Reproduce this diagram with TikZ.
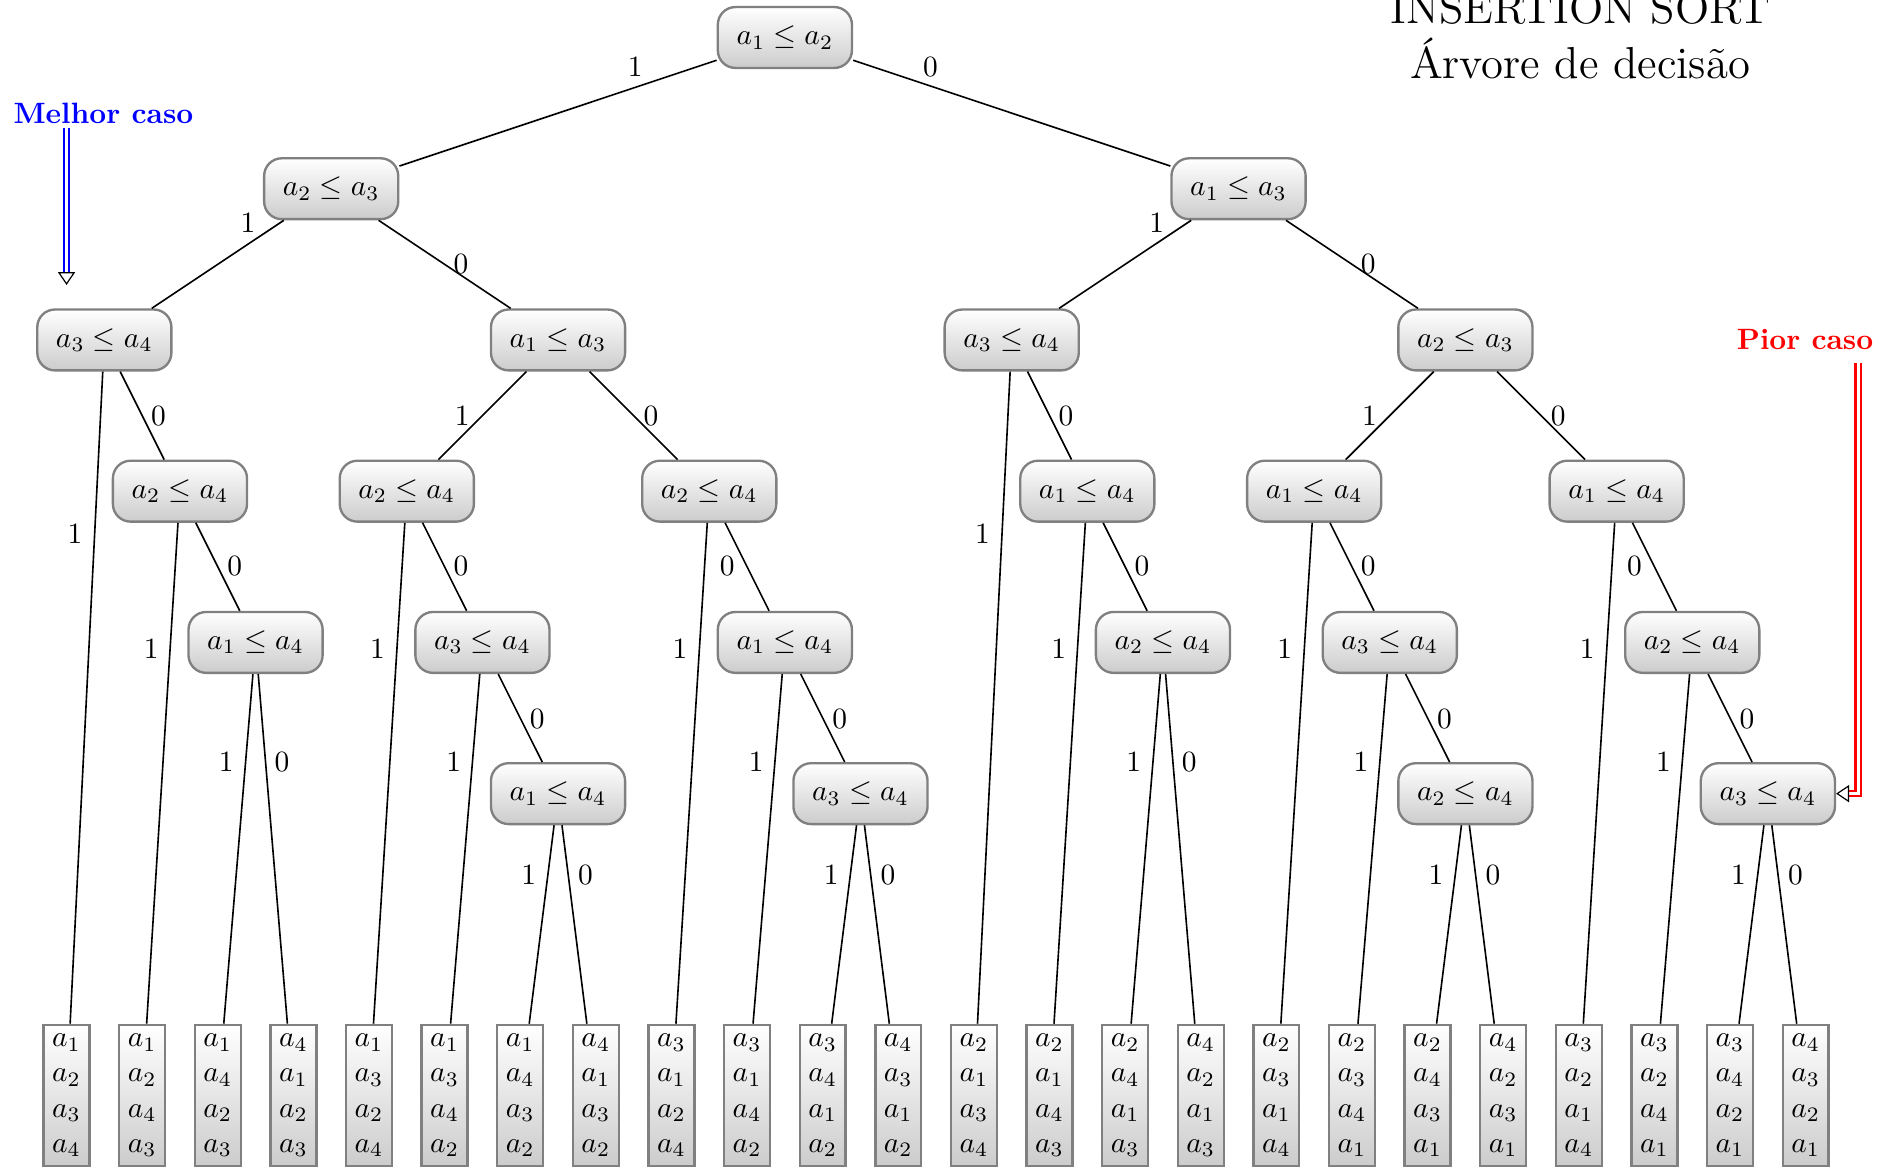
\documentclass[tikz,border=0pt]{standalone}
\usepackage{graphicx}
\usetikzlibrary{arrows.meta}
\begin{document}
\begin{tikzpicture}[x=0.4113pt,y=-0.4113pt,
  cmp/.style={draw=gray, line width=0.8pt, rounded corners=6pt, top color=white, bottom color=black!20, minimum width=45.6pt, minimum height=20.7pt, inner sep=2pt},
  leaf/.style={draw=gray, line width=0.8pt, top color=white, bottom color=black!20, minimum width=15.6pt, minimum height=48pt, inner sep=1pt, align=center},
  edge/.style={draw=black, line width=0.55pt},
  lbl/.style={inner sep=0pt},
  ttl/.style={anchor=base, font=\Large, inner sep=0pt},
  dblarrow/.style={double=white, double distance=1pt, line width=0.8pt, -{Triangle[color=black, fill=white, length=4.4pt, width=5.8pt, line width=0.4pt]}}
]
\useasboundingbox (0,0) rectangle (1568,965);
% title
\node[ttl] (t1) at (1306,19.8) {\scalebox{1.057}{INSERTION SORT}};
\node[ttl] (t2) at (1306,65.3) {\scalebox{1.057}{Árvore de decisão}};
% internal nodes
\node[cmp] (root) at (648.75,31) {$a_1 \leq a_2$};
\node[cmp] (A) at (273.75,156) {$a_2 \leq a_3$};
\node[cmp] (L) at (1023.75,156) {$a_1 \leq a_3$};
\node[cmp] (B) at (86.25,281) {$a_3 \leq a_4$};
\node[cmp] (E) at (461.25,281) {$a_1 \leq a_3$};
\node[cmp] (M) at (836.25,281) {$a_3 \leq a_4$};
\node[cmp] (P) at (1211.25,281) {$a_2 \leq a_3$};
\node[cmp] (C) at (148.75,406) {$a_2 \leq a_4$};
\node[cmp] (F) at (336.25,406) {$a_2 \leq a_4$};
\node[cmp] (I) at (586.25,406) {$a_2 \leq a_4$};
\node[cmp] (N) at (898.75,406) {$a_1 \leq a_4$};
\node[cmp] (Q) at (1086.25,406) {$a_1 \leq a_4$};
\node[cmp] (T) at (1336.25,406) {$a_1 \leq a_4$};
\node[cmp] (D) at (211.25,531) {$a_1 \leq a_4$};
\node[cmp] (G) at (398.75,531) {$a_3 \leq a_4$};
\node[cmp] (J) at (648.75,531) {$a_1 \leq a_4$};
\node[cmp] (O) at (961.25,531) {$a_2 \leq a_4$};
\node[cmp] (R) at (1148.75,531) {$a_3 \leq a_4$};
\node[cmp] (U) at (1398.75,531) {$a_2 \leq a_4$};
\node[cmp] (H) at (461.25,656) {$a_1 \leq a_4$};
\node[cmp] (K) at (711.25,656) {$a_3 \leq a_4$};
\node[cmp] (S) at (1211.25,656) {$a_2 \leq a_4$};
\node[cmp] (V) at (1461.25,656) {$a_3 \leq a_4$};
% leaves
\foreach \i/\p/\q/\r/\s in {0/1/2/3/4, 1/1/2/4/3, 2/1/4/2/3, 3/4/1/2/3, 4/1/3/2/4, 5/1/3/4/2, 6/1/4/3/2, 7/4/1/3/2, 8/3/1/2/4, 9/3/1/4/2, 10/3/4/1/2, 11/4/3/1/2, 12/2/1/3/4, 13/2/1/4/3, 14/2/4/1/3, 15/4/2/1/3, 16/2/3/1/4, 17/2/3/4/1, 18/2/4/3/1, 19/4/2/3/1, 20/3/2/1/4, 21/3/2/4/1, 22/3/4/2/1, 23/4/3/2/1}
  \node[leaf] (l\i) at ({55+62.5*\i},905.5) {$a_\p$\\$a_\q$\\$a_\r$\\$a_\s$};
% edges and labels
\foreach \pa/\ch/\lx/\ly/\t in {root/A/525/55/1, root/L/769/55/0,
  A/B/205/184/1, A/E/381/218/0, L/M/956/184/1, L/P/1131/218/0,
  B/l0/62/441/1, B/C/131/344/0, E/F/382/344/1, E/I/538/344/0,
  M/l12/812/441/1, M/N/881/344/0, P/Q/1132/344/1, P/T/1288/344/0,
  C/l1/125/536/1, C/D/194/468/0, F/l4/312/536/1, F/G/381/468/0,
  I/l8/562/536/1, I/J/601/468/0, N/l13/875/536/1, N/O/944/468/0,
  Q/l16/1062/536/1, Q/R/1131/468/0, T/l20/1312/536/1, T/U/1351/468/0,
  D/l2/187/630/1, D/l3/233/630/0, G/l5/375/630/1, G/H/444/594/0,
  J/l9/625/630/1, J/K/694/594/0, O/l14/937/630/1, O/l15/983/630/0,
  R/l17/1125/630/1, R/S/1194/594/0, U/l21/1375/630/1, U/V/1444/594/0,
  H/l6/437/723/1, H/l7/484/723/0, K/l10/687/723/1, K/l11/734/723/0,
  S/l18/1187/723/1, S/l19/1234/723/0, V/l22/1437/723/1, V/l23/1484/723/0}
{
  \draw[edge] (\pa) -- (\ch);
  \node[lbl] (lb-\pa-\ch) at (\lx,\ly) {\t};
}
% best / worst case
\node[anchor=base, font=\bfseries, text=blue, inner sep=1pt] (best) at (85.5,101.7) {Melhor caso};
\coordinate (bestS) at (55,105.8);
\coordinate (bestE) at (55,235.6);
\draw[dblarrow, draw=blue] (bestS) -- (bestE);
\node[anchor=base, font=\bfseries, text=red, inner sep=1pt] (worst) at (1492,289) {Pior caso};
\coordinate (worstS) at (1535.8,300);
\draw[dblarrow, draw=red] (worstS) |- (V.east);
\end{tikzpicture}
\end{document}
